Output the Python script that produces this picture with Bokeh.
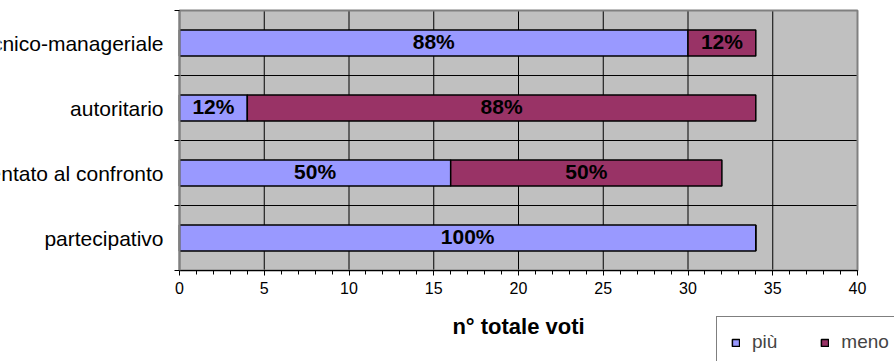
from bokeh.plotting import figure
from bokeh.models import (Range1d, FixedTicker, LabelSet, ColumnDataSource,
                          Legend, LegendItem, LinearAxis)
from bokeh.core.properties import value
from bokeh.embed import file_html
from bokeh.resources import INLINE

# ---- data ----
categories = ["tecnico-manageriale", "autoritario", "orientato al confronto", "partecipativo"]
piu = [30, 4, 16, 34]
meno = [4, 30, 16, 0]
series_names = ["più", "meno"]
x_ticks = [0, 5, 10, 15, 20, 25, 30, 35, 40]
x_title = "n° totale voti"

PIU_COLOR = "#9999FF"
MENO_COLOR = "#993366"
PLOT_BG = "#C0C0C0"
FONT = "Liberation Sans"

# ---- layout (pixels on the canvas) ----
W, H = 894, 361
PX_LEFT, PX_RIGHT, PX_TOP, PX_BOTTOM = 179, 857, 10, 270

n = len(categories)
ypos = [n - i - 0.5 for i in range(n)]
totals = [a + b for a, b in zip(piu, meno)]

x0, x1 = x_ticks[0], x_ticks[-1]
xs = (x1 - x0) / (PX_RIGHT - PX_LEFT)
ys = n / (PX_BOTTOM - PX_TOP)
x_range = Range1d(x0 - PX_LEFT * xs, x1 + (W - PX_RIGHT) * xs)
y_range = Range1d(-(H - PX_BOTTOM) * ys, n + PX_TOP * ys)

src = ColumnDataSource(dict(
    y=ypos, cat=categories, piu=piu, meno=meno,
    zero=[0] * n, end=totals,
))

p = figure(width=W, height=H, output_backend="svg", toolbar_location=None,
           x_range=x_range, y_range=y_range,
           x_axis_location=None, y_axis_location=None,
           min_border=0, min_border_left=0, min_border_right=0,
           min_border_top=0, min_border_bottom=0)
p.background_fill_color = "white"
p.border_fill_color = "white"
p.outline_line_color = None
p.xgrid.visible = False
p.ygrid.visible = False

# plot area background
p.quad(left=[x0], right=[x1], bottom=[0], top=[n],
       fill_color=PLOT_BG, line_color=None)
# grid lines
p.segment(x0=x_ticks, x1=x_ticks, y0=[0] * len(x_ticks), y1=[n] * len(x_ticks),
          line_color="black", line_width=1)
p.segment(x0=[x0] * (n + 1), x1=[x1] * (n + 1), y0=list(range(n + 1)),
          y1=list(range(n + 1)), line_color="black", line_width=1)
# plot area border
p.quad(left=[x0], right=[x1], bottom=[0], top=[n],
       fill_color=None, line_color="#808080", line_width=2)

r1 = p.hbar(y="y", left="zero", right="piu", height=0.4, source=src,
            fill_color=PIU_COLOR, line_color="black", line_width=1.5)
r2 = p.hbar(y="y", left="piu", right="end", height=0.4, source=src,
            fill_color=MENO_COLOR, line_color="black", line_width=1.5)

# x axis, fixed at y=0
xa = LinearAxis(fixed_location=0, bounds=(x0, x1),
                ticker=FixedTicker(ticks=x_ticks, minor_ticks=list(range(x0, x1 + 1))),
                major_tick_out=5, major_tick_in=0, minor_tick_out=4, minor_tick_in=0,
                axis_line_color="black", major_tick_line_color="black",
                minor_tick_line_color="black",
                major_label_text_font=FONT, major_label_text_font_size="16px",
                major_label_text_color="black", major_label_standoff=6,
                axis_label=x_title, axis_label_text_font=FONT,
                axis_label_text_font_size="22px", axis_label_text_font_style="bold",
                axis_label_text_color="black", axis_label_standoff=17)
p.add_layout(xa, "below")

# y axis, fixed at x=0: ticks at the category boundaries
ya = LinearAxis(fixed_location=0, bounds=(0, n),
                ticker=FixedTicker(ticks=list(range(n + 1)), minor_ticks=[]),
                major_label_overrides={i: "" for i in range(n + 1)},
                major_tick_out=5, major_tick_in=0, major_tick_line_color="black",
                axis_line_color="#808080", axis_line_width=2)
p.add_layout(ya, "left")

# category labels
cat_labels = LabelSet(x=0, y="y", text="cat", source=src, x_offset=-16,
                      text_align="right", text_baseline="middle",
                      text_font=value(FONT), text_font_size=value("21px"),
                      text_color="black")
p.add_layout(cat_labels)

# percentage labels in the bar segments
lx, ly, lt = [], [], []
for i in range(n):
    if piu[i] > 0:
        lx.append(piu[i] / 2); ly.append(ypos[i]); lt.append(f"{round(100 * piu[i] / totals[i])}%")
    if meno[i] > 0:
        lx.append(piu[i] + meno[i] / 2); ly.append(ypos[i]); lt.append(f"{round(100 * meno[i] / totals[i])}%")
pct_src = ColumnDataSource(dict(x=lx, y=ly, t=lt))
pct = LabelSet(x="x", y="y", text="t", source=pct_src, y_offset=2,
               text_align="center", text_baseline="middle",
               text_font=value(FONT), text_font_size=value("21px"),
               text_font_style="bold", text_color="black")
p.add_layout(pct)

legend = Legend(items=[LegendItem(label=series_names[0], renderers=[r1]),
                       LegendItem(label=series_names[1], renderers=[r2])],
                location=(716, -7), orientation="horizontal",
                glyph_width=9, glyph_height=9, label_standoff=12, spacing=43,
                padding=14, label_text_font=FONT, label_text_font_size="19px",
                border_line_color="black", border_line_width=1,
                background_fill_color="white", background_fill_alpha=1.0)
p.add_layout(legend)

open("out.html", "w").write(file_html(p, INLINE))
